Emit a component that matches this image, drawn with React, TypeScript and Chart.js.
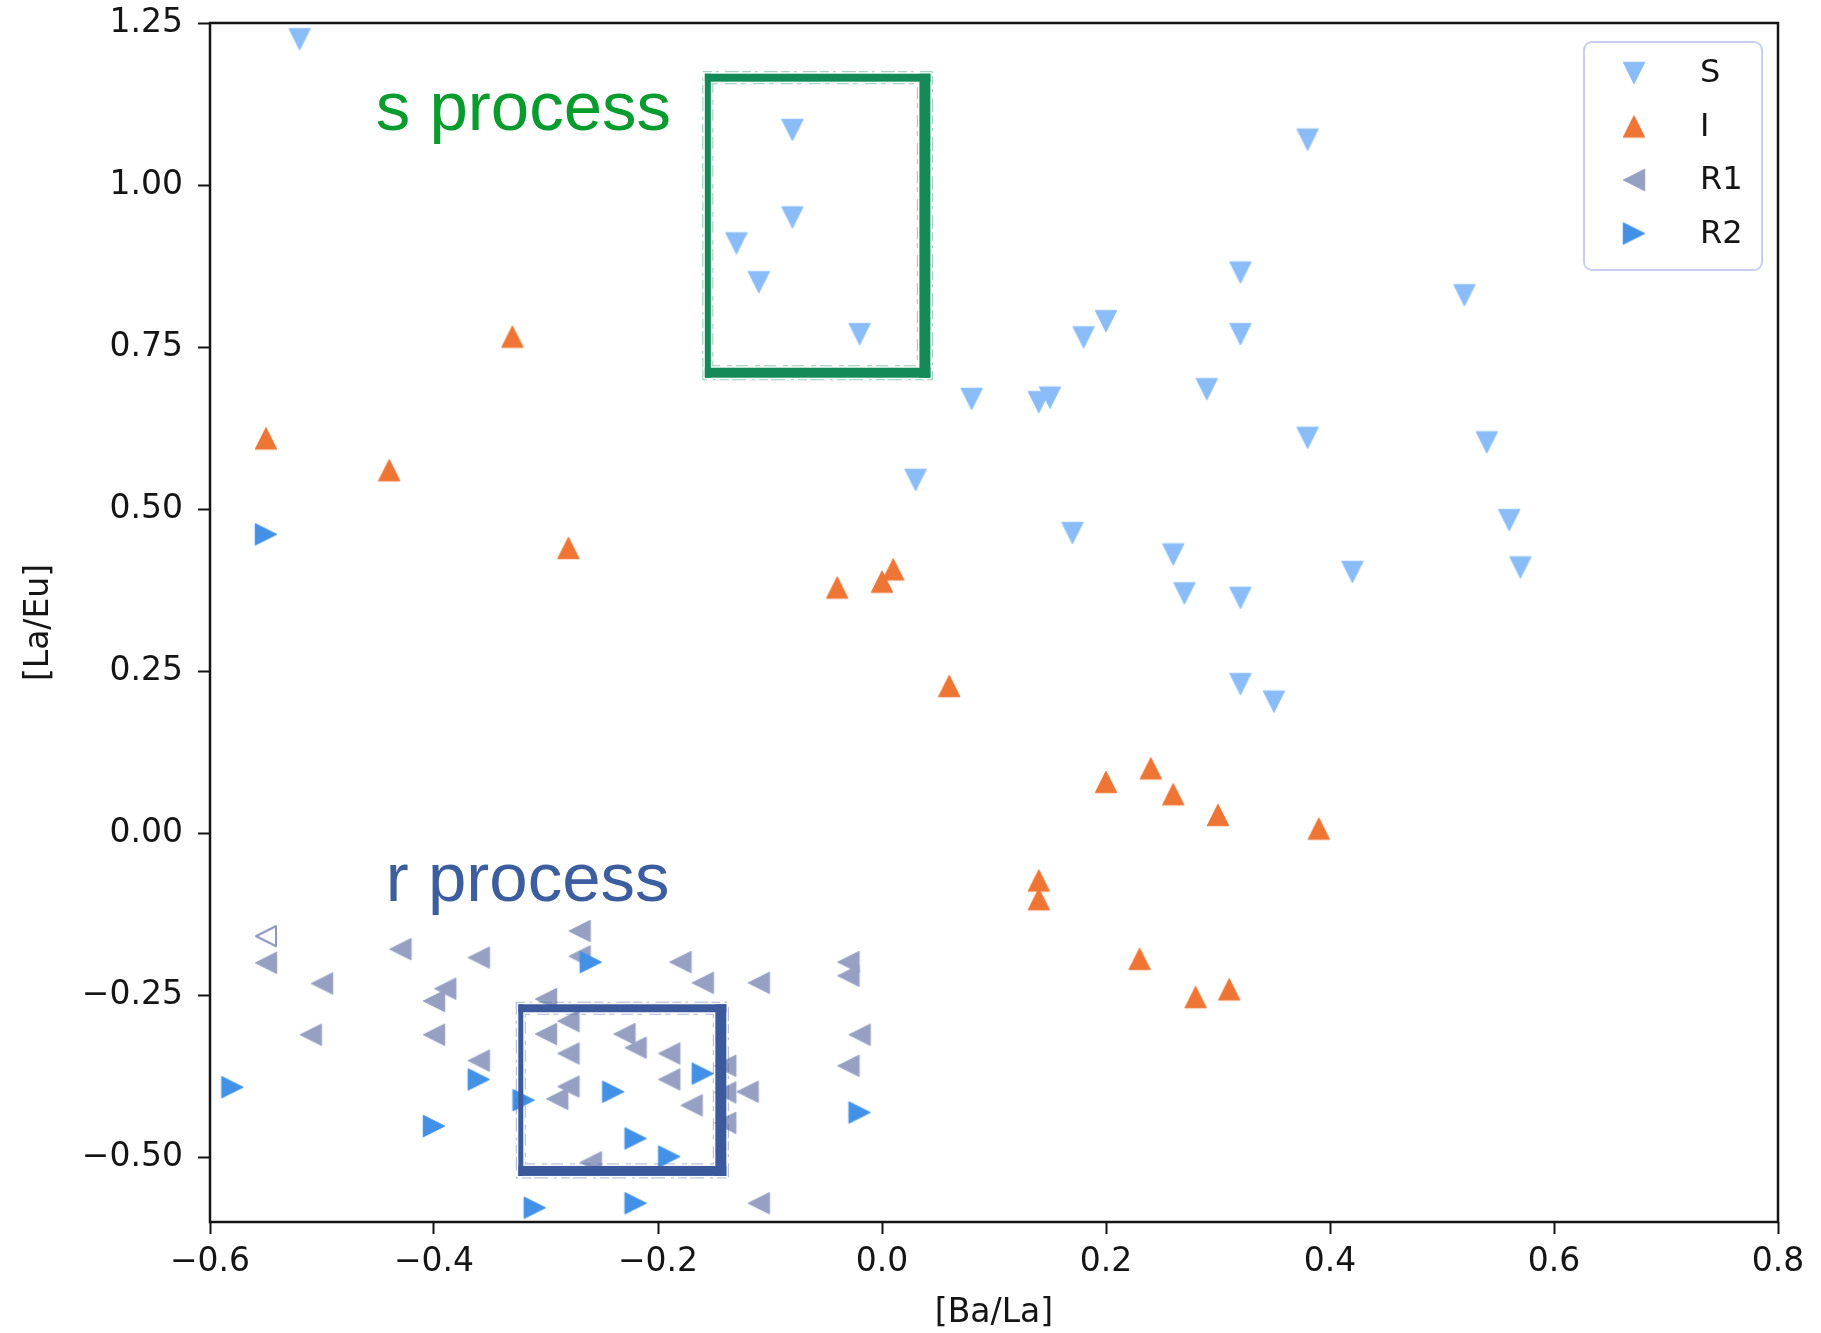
import React, { useEffect, useRef } from 'react';
import { Chart, registerables } from 'chart.js';

Chart.register(...registerables);

// ---- data: [Ba/La] (x) and [La/Eu] (y) per group ----
const sBaLa = [-0.52, -0.08, -0.08, -0.13, -0.11, -0.02, 0.08, 0.14, 0.15, 0.03, 0.18, 0.2, 0.32, 0.32, 0.29, 0.38, 0.52, 0.38, 0.54, 0.56, 0.57, 0.42, 0.17, 0.26, 0.27, 0.32, 0.32, 0.35];
const sLaEu = [1.225, 1.085, 0.95, 0.91, 0.85, 0.77, 0.67, 0.665, 0.672, 0.545, 0.765, 0.79, 0.865, 0.77, 0.685, 1.07, 0.83, 0.61, 0.603, 0.483, 0.41, 0.403, 0.463, 0.43, 0.37, 0.363, 0.23, 0.203];

const iBaLa = [-0.33, -0.55, -0.44, -0.28, -0.04, 0.0, 0.01, 0.06, 0.2, 0.24, 0.26, 0.3, 0.39, 0.14, 0.14, 0.23, 0.28, 0.31];
const iLaEu = [0.766, 0.609, 0.56, 0.44, 0.379, 0.388, 0.407, 0.227, 0.079, 0.1, 0.06, 0.028, 0.007, -0.073, -0.102, -0.194, -0.253, -0.241];

const r1BaLa = [-0.55, -0.5, -0.43, -0.36, -0.51, -0.39, -0.4, -0.4, -0.36, -0.27, -0.27, -0.18, -0.16, -0.11, -0.03, -0.03, -0.02, -0.03, -0.3, -0.28, -0.3, -0.28, -0.23, -0.22, -0.19, -0.19, -0.28, -0.29, -0.17, -0.14, -0.14, -0.12, -0.14, -0.26, -0.11];
const r1LaEu = [-0.2, -0.232, -0.179, -0.192, -0.311, -0.24, -0.259, -0.311, -0.351, -0.151, -0.19, -0.199, -0.231, -0.231, -0.199, -0.22, -0.311, -0.359, -0.256, -0.29, -0.31, -0.34, -0.31, -0.331, -0.34, -0.38, -0.391, -0.41, -0.42, -0.359, -0.4, -0.399, -0.447, -0.508, -0.571];

// R1 star plotted with an open marker
const r1OpenBaLa = [-0.55];
const r1OpenLaEu = [-0.159];

const r2BaLa = [-0.55, -0.58, -0.26, -0.36, -0.4, -0.32, -0.24, -0.16, -0.22, -0.19, -0.31, -0.22, -0.02];
const r2LaEu = [0.461, -0.392, -0.199, -0.38, -0.452, -0.412, -0.399, -0.371, -0.471, -0.499, -0.578, -0.571, -0.431];

const xTicks = [-0.6, -0.4, -0.2, 0.0, 0.2, 0.4, 0.6, 0.8];
const xTickLabels = ['\u22120.6', '\u22120.4', '\u22120.2', '0.0', '0.2', '0.4', '0.6', '0.8'];
const yTicks = [-0.5, -0.25, 0.0, 0.25, 0.5, 0.75, 1.0, 1.25];
const yTickLabels = ['\u22120.50', '\u22120.25', '0.00', '0.25', '0.50', '0.75', '1.00', '1.25'];

const legendLabels = ['S', 'I', 'R1', 'R2'];

// highlighted regions in data units: [xMin, xMax, yMin, yMax]
const sRegion = [-0.1555, 0.0383, 0.7104, 1.1656];
const rRegion = [-0.3225, -0.1439, -0.5212, -0.2702];
// annotation anchors (left end of baseline) in data units
const sLabelAt = [-0.452, 1.0846];
const rLabelAt = [-0.443, -0.105];

// ---- styling ----
const COLORS = {
  S: 'rgb(138,189,248)',
  I: 'rgb(238,117,52)',
  R1: 'rgb(150,160,195)',
  R1open: 'rgb(140,150,190)',
  R2: 'rgb(66,145,230)',
};
const AXIS_FONT = 'DejaVu Sans';
const FONT_SIZE = 33;
const INK = '#151515';

type Dir = 'up' | 'down' | 'left' | 'right';

function makeMarker(dir: Dir, color: string, filled: boolean): HTMLCanvasElement {
  const size = 28;
  const c = document.createElement('canvas');
  c.width = size;
  c.height = size;
  const ctx = c.getContext('2d') as CanvasRenderingContext2D;
  const h = filled ? 10.75 : 10;
  let pts: number[][];
  switch (dir) {
    case 'up':
      pts = [[0, -h], [-h, h], [h, h]];
      break;
    case 'down':
      pts = [[0, h], [-h, -h], [h, -h]];
      break;
    case 'left':
      pts = [[-h, 0], [h, -h], [h, h]];
      break;
    default:
      pts = [[h, 0], [-h, -h], [-h, h]];
  }
  ctx.translate(size / 2, size / 2);
  ctx.beginPath();
  ctx.moveTo(pts[0][0], pts[0][1]);
  ctx.lineTo(pts[1][0], pts[1][1]);
  ctx.lineTo(pts[2][0], pts[2][1]);
  ctx.closePath();
  ctx.lineJoin = 'round';
  if (filled) {
    ctx.fillStyle = color;
    ctx.fill();
    ctx.strokeStyle = color;
    ctx.lineWidth = 1;
    ctx.stroke();
  } else {
    ctx.strokeStyle = color;
    ctx.lineWidth = 2;
    ctx.stroke();
  }
  return c;
}

function toPoints(xs: number[], ys: number[]) {
  return xs.map((x, i) => ({ x, y: ys[i] }));
}

// brush-like rectangle with uneven side widths and frayed edges
function sketchRect(
  ctx: CanvasRenderingContext2D,
  x0: number, y0: number, x1: number, y1: number,
  color: string, widths: { l: number; r: number; t: number; b: number }
) {
  ctx.save();
  ctx.fillStyle = color;
  const { l, r, t, b } = widths;
  ctx.fillRect(x0 - l / 2, y0 - t / 2, l, y1 - y0 + (t + b) / 2);
  ctx.fillRect(x1 - r / 2, y0 - t / 2, r, y1 - y0 + (t + b) / 2);
  ctx.fillRect(x0 - l / 2, y0 - t / 2, x1 - x0 + (l + r) / 2, t);
  ctx.fillRect(x0 - l / 2, y1 - b / 2, x1 - x0 + (l + r) / 2, b);
  ctx.strokeStyle = color;
  ctx.lineWidth = 1;
  ctx.globalAlpha = 0.45;
  ctx.setLineDash([9, 4, 3, 6, 14, 3]);
  ctx.strokeRect(x0 - l / 2 - 2, y0 - t / 2 - 2, x1 - x0 + (l + r) / 2 + 4, y1 - y0 + (t + b) / 2 + 4);
  ctx.setLineDash([5, 7, 12, 4]);
  ctx.strokeRect(x0 + l / 2 + 2, y0 + t / 2 + 2, x1 - x0 - (l + r) / 2 - 4, y1 - y0 - (t + b) / 2 - 4);
  ctx.restore();
}

export default function App() {
  const canvasRef = useRef<HTMLCanvasElement | null>(null);

  useEffect(() => {
    const canvas = canvasRef.current;
    if (!canvas) return;

    const markers = {
      S: makeMarker('down', COLORS.S, true),
      I: makeMarker('up', COLORS.I, true),
      R1: makeMarker('left', COLORS.R1, true),
      R1open: makeMarker('left', COLORS.R1open, false),
      R2: makeMarker('right', COLORS.R2, true),
    };

    const overlay = {
      id: 'figureOverlay',
      afterDatasetsDraw(chart: any) {
        const { ctx, chartArea, scales } = chart;
        const xs = scales.x;
        const ys = scales.y;

        // highlighted regions
        sketchRect(
          ctx,
          xs.getPixelForValue(sRegion[0]), ys.getPixelForValue(sRegion[3]),
          xs.getPixelForValue(sRegion[1]), ys.getPixelForValue(sRegion[2]),
          'rgb(20,138,88)', { l: 6, r: 11, t: 8, b: 10 }
        );
        sketchRect(
          ctx,
          xs.getPixelForValue(rRegion[0]), ys.getPixelForValue(rRegion[3]),
          xs.getPixelForValue(rRegion[1]), ys.getPixelForValue(rRegion[2]),
          'rgb(60,90,155)', { l: 5, r: 11, t: 8, b: 10 }
        );

        // region labels
        ctx.save();
        ctx.font = '69px "Liberation Sans", Arial, sans-serif';
        ctx.textAlign = 'left';
        ctx.textBaseline = 'alphabetic';
        ctx.fillStyle = 'rgb(8,155,45)';
        ctx.fillText('s process', xs.getPixelForValue(sLabelAt[0]), ys.getPixelForValue(sLabelAt[1]));
        ctx.fillStyle = 'rgb(61,94,158)';
        ctx.fillText('r process', xs.getPixelForValue(rLabelAt[0]), ys.getPixelForValue(rLabelAt[1]));
        ctx.restore();

        // axes frame
        ctx.save();
        ctx.strokeStyle = INK;
        ctx.lineWidth = 2.5;
        ctx.strokeRect(chartArea.left, chartArea.top, chartArea.right - chartArea.left, chartArea.bottom - chartArea.top);
        ctx.restore();

        // legend, upper right inside the axes
        const boxW = 178;
        const boxH = 228;
        const bx = chartArea.right - 16 - boxW;
        const by = chartArea.top + 19;
        ctx.save();
        ctx.beginPath();
        const rr = 8;
        ctx.moveTo(bx + rr, by);
        ctx.arcTo(bx + boxW, by, bx + boxW, by + boxH, rr);
        ctx.arcTo(bx + boxW, by + boxH, bx, by + boxH, rr);
        ctx.arcTo(bx, by + boxH, bx, by, rr);
        ctx.arcTo(bx, by, bx + boxW, by, rr);
        ctx.closePath();
        ctx.fillStyle = 'rgba(255,255,255,0.8)';
        ctx.fill();
        ctx.strokeStyle = 'rgb(200,206,240)';
        ctx.lineWidth = 2;
        ctx.stroke();
        const legendMarkers = [markers.S, markers.I, markers.R1, markers.R2];
        ctx.font = `32px "${AXIS_FONT}"`;
        ctx.fillStyle = INK;
        ctx.textAlign = 'left';
        ctx.textBaseline = 'middle';
        legendLabels.forEach((label, i) => {
          const cy = by + 31 + i * 53.5;
          const m = legendMarkers[i];
          ctx.drawImage(m, bx + 50 - m.width / 2, cy - m.height / 2);
          ctx.fillText(label, bx + 116, cy + 1);
        });
        ctx.restore();
      },
    };

    const tickFont = { family: AXIS_FONT, size: FONT_SIZE };

    const chart = new Chart(canvas, {
      type: 'scatter',
      data: {
        datasets: [
          { label: 'S', data: toPoints(sBaLa, sLaEu), pointStyle: markers.S as any, pointRadius: 11, order: 3, clip: false as any },
          { label: 'I', data: toPoints(iBaLa, iLaEu), pointStyle: markers.I as any, pointRadius: 11, order: 2, clip: false as any },
          { label: 'R1', data: toPoints(r1BaLa, r1LaEu), pointStyle: markers.R1 as any, pointRadius: 11, order: 1, clip: false as any },
          { label: 'R1 open', data: toPoints(r1OpenBaLa, r1OpenLaEu), pointStyle: markers.R1open as any, pointRadius: 11, order: 1, clip: false as any },
          { label: 'R2', data: toPoints(r2BaLa, r2LaEu), pointStyle: markers.R2 as any, pointRadius: 11, order: 0, clip: false as any },
        ],
      },
      options: {
        animation: false,
        responsive: true,
        maintainAspectRatio: false,
        events: [],
        layout: { padding: { top: 23, right: 43, bottom: 0, left: 0 } },
        plugins: {
          legend: { display: false },
          tooltip: { enabled: false },
        },
        scales: {
          x: {
            type: 'linear',
            min: -0.6,
            max: 0.8,
            afterBuildTicks: (s: any) => {
              s.ticks = xTicks.map((v) => ({ value: v }));
            },
            afterFit: (s: any) => {
              s.height = 111;
              s.paddingLeft = 0;
              s.paddingRight = 0;
            },
            ticks: {
              callback: (_v: any, i: number) => xTickLabels[i],
              font: tickFont,
              color: INK,
              padding: 9,
              maxRotation: 0,
              autoSkip: false,
            },
            grid: { display: true, drawOnChartArea: false, drawTicks: true, tickLength: 12, tickWidth: 2, tickColor: INK },
            border: { display: false },
            title: { display: true, text: '[Ba/La]', font: tickFont, color: INK, padding: { top: 0, bottom: 0 } },
          },
          y: {
            type: 'linear',
            min: -0.6,
            max: 1.25,
            afterBuildTicks: (s: any) => {
              s.ticks = yTicks.map((v) => ({ value: v }));
            },
            afterFit: (s: any) => {
              s.width = 210;
              s.paddingTop = 0;
              s.paddingBottom = 0;
            },
            ticks: {
              callback: (_v: any, i: number) => yTickLabels[i],
              font: tickFont,
              color: INK,
              padding: 15,
              autoSkip: false,
            },
            grid: { display: true, drawOnChartArea: false, drawTicks: true, tickLength: 12, tickWidth: 2, tickColor: INK },
            border: { display: false },
            title: { display: true, text: '[La/Eu]', font: tickFont, color: INK, padding: { top: 20, bottom: 0 } },
          },
        },
      },
      plugins: [overlay],
    } as any);

    return () => {
      chart.destroy();
    };
  }, []);

  return (
    <div style={{ position: 'fixed', left: 0, top: 0, width: 1821, height: 1333, background: '#fff' }}>
      <canvas ref={canvasRef} />
    </div>
  );
}
